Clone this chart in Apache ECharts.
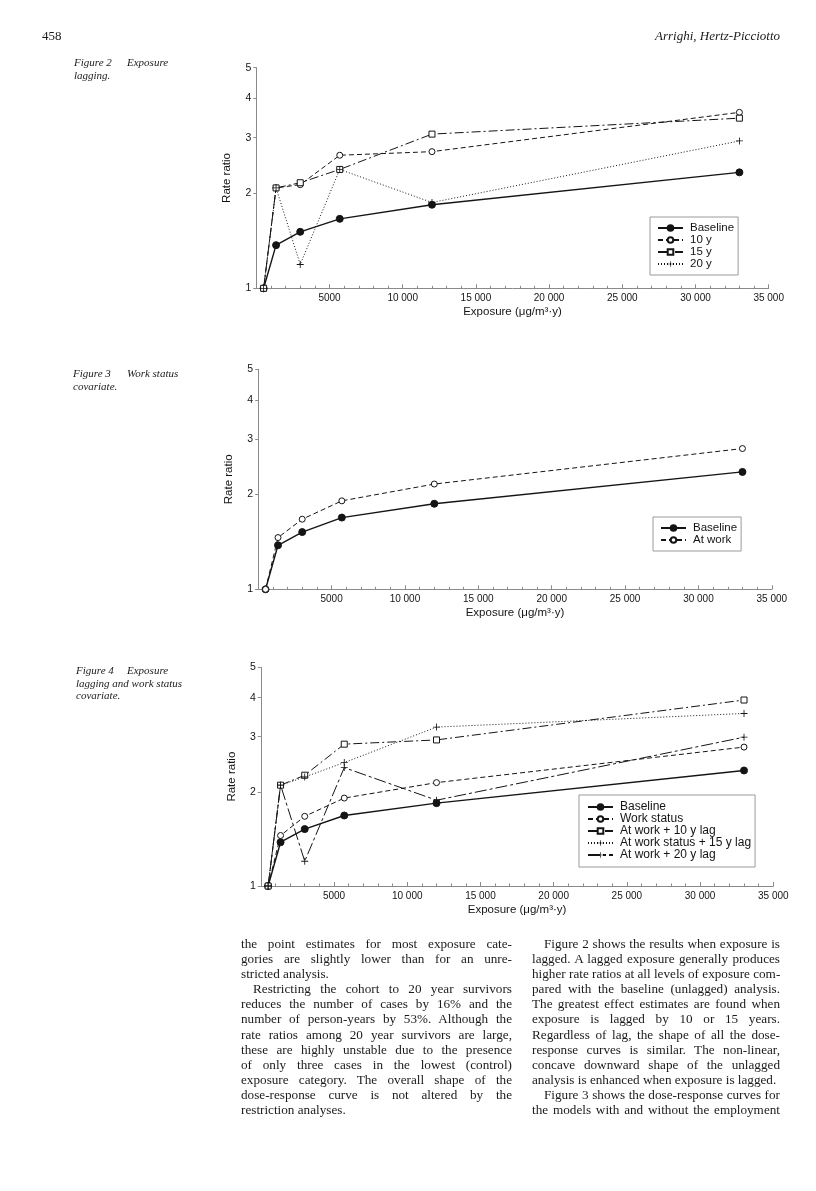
<!DOCTYPE html>
<html>
<head>
<meta charset="utf-8">
<script src="https://cdn.jsdelivr.net/npm/echarts@6/dist/echarts.min.js"></script>
<style>
  html, body { margin: 0; padding: 0; background: #fff; }
  #page { position: relative; width: 816px; height: 1191px; overflow: hidden; background: #fff; }
  #chart { position: absolute; left: 0; top: 0; width: 816px; height: 1191px; }
  .serif { position: absolute; font-family: "Liberation Serif", "DejaVu Serif", serif; color: #1a1a1a; white-space: nowrap; }
  .cap { font-style: italic; font-size: 11px; line-height: 12px; }
  .col { position: absolute; font-family: "Liberation Serif", "DejaVu Serif", serif; color: #1a1a1a; font-size: 13.2px; line-height: 15.1px; }
  .col div { text-align: justify; text-align-last: justify; white-space: nowrap; height: 15.1px; }
  .col div.last { text-align-last: left; }
  .col div.ind { text-indent: 12px; }
</style>
</head>
<body>
<div id="page">
  <div id="chart"></div>

  <div class="serif" style="left:42px; top:28px; font-size:13px;">458</div>
  <div class="serif" style="right:36px; top:28px; font-size:13px; font-style:italic;">Arrighi, Hertz-Picciotto</div>

  <div class="serif cap" style="left:74px; top:56px;">Figure 2</div>
  <div class="serif cap" style="left:127px; top:56px;">Exposure</div>
  <div class="serif cap" style="left:74px; top:68.5px;">lagging.</div>

  <div class="serif cap" style="left:73px; top:367px;">Figure 3</div>
  <div class="serif cap" style="left:127px; top:367px;">Work status</div>
  <div class="serif cap" style="left:73px; top:379.5px;">covariate.</div>

  <div class="serif cap" style="left:76px; top:664px;">Figure 4</div>
  <div class="serif cap" style="left:127px; top:664px;">Exposure</div>
  <div class="serif cap" style="left:76px; top:676.5px;">lagging and work status</div>
  <div class="serif cap" style="left:76px; top:689px;">covariate.</div>

  <div class="col" style="left:241px; top:936px; width:271px;">
    <div>the point estimates for most exposure cate-</div>
    <div>gories are slightly lower than for an unre-</div>
    <div class="last">stricted analysis.</div>
    <div class="ind">Restricting the cohort to 20 year survivors</div>
    <div>reduces the number of cases by 16% and the</div>
    <div>number of person-years by 53%. Although the</div>
    <div>rate ratios among 20 year survivors are large,</div>
    <div>these are highly unstable due to the presence</div>
    <div>of only three cases in the lowest (control)</div>
    <div>exposure category. The overall shape of the</div>
    <div>dose-response curve is not altered by the</div>
    <div class="last">restriction analyses.</div>
  </div>

  <div class="col" style="left:532px; top:936px; width:248px;">
    <div class="ind">Figure 2 shows the results when exposure is</div>
    <div>lagged. A lagged exposure generally produces</div>
    <div>higher rate ratios at all levels of exposure com-</div>
    <div>pared with the baseline (unlagged) analysis.</div>
    <div>The greatest effect estimates are found when</div>
    <div>exposure is lagged by 10 or 15 years.</div>
    <div>Regardless of lag, the shape of all the dose-</div>
    <div>response curves is similar. The non-linear,</div>
    <div>concave downward shape of the unlagged</div>
    <div class="last">analysis is enhanced when exposure is lagged.</div>
    <div class="ind">Figure 3 shows the dose-response curves for</div>
    <div>the models with and without the employment</div>
  </div>
</div>

<script>
// ---------------- data ----------------
const exposure = [500, 1350, 3000, 5700, 12000, 33000];
const rateTicks = [1, 2, 3, 4, 5];
const exposureTicks = [5000, 10000, 15000, 20000, 25000, 30000, 35000];

// Figure 2: exposure lagging
const fig2Baseline = [1, 1.37, 1.51, 1.66, 1.84, 2.33];
const fig2Lag10    = [1, 2.08, 2.13, 2.64, 2.71, 3.61];
const fig2Lag15    = [1, 2.08, 2.16, 2.38, 3.08, 3.46];
const fig2Lag20    = [1, 2.08, 1.19, 2.38, 1.87, 2.93];

// Figure 3: work status covariate
const fig3Baseline = [1, 1.38, 1.52, 1.69, 1.87, 2.36];
const fig3AtWork   = [1, 1.46, 1.67, 1.91, 2.16, 2.80];

// Figure 4: exposure lagging and work status covariate
const fig4Baseline   = [1, 1.38, 1.52, 1.68, 1.84, 2.34];
const fig4WorkStatus = [1, 1.45, 1.67, 1.91, 2.14, 2.78];
const fig4Work10     = [1, 2.10, 2.26, 2.84, 2.93, 3.93];
const fig4Work15     = [1, 2.10, 2.23, 2.48, 3.22, 3.56];
const fig4Work20     = [1, 2.10, 1.20, 2.39, 1.88, 2.99];

// ---------------- styling ----------------
const SANS = '"Liberation Sans", Arial, Helvetica, sans-serif';
const INK = '#141414';
const AXIS = '#8a8a8a';
const PLUS = 'path://M4.4,0H5.6V4.4H10V5.6H5.6V10H4.4V5.6H0V4.4H4.4Z';

const styles = {
  baseline: { symbol: 'circle', symbolSize: 7, line: { type: 'solid', width: 1.4 }, fill: INK, border: 1 },
  dashCircle: { symbol: 'circle', symbolSize: 6, line: { type: [5, 3], width: 1 }, fill: '#fff', border: 1 },
  dashDotSquare: { symbol: 'rect', symbolSize: 6, line: { type: [9, 3, 2, 3], width: 1 }, fill: '#fff', border: 1 },
  dotPlus: { symbol: PLUS, symbolSize: 7, line: { type: [1, 2], width: 1 }, fill: INK, border: 0 },
  longDashPlus: { symbol: PLUS, symbolSize: 7, line: { type: [12, 3, 3, 3], width: 1 }, fill: INK, border: 0 }
};

function series(name, values, gi, st) {
  const s = styles[st];
  return {
    type: 'line', name: name, xAxisIndex: gi, yAxisIndex: gi,
    data: exposure.map((x, i) => [x, values[i]]),
    symbol: s.symbol, symbolSize: s.symbolSize, showAllSymbol: true,
    lineStyle: { color: INK, width: s.line.width, type: s.line.type },
    itemStyle: { color: s.fill, borderColor: INK, borderWidth: s.border },
    emphasis: { disabled: true },
    animation: false, clip: false
  };
}

const grids = [
  { left: 256.3, top: 67.7, width: 512.4, height: 220.6 },
  { left: 258.2, top: 369.3, width: 513.6, height: 220.0 },
  { left: 260.8, top: 667.3, width: 512.5, height: 218.7 }
].map(g => Object.assign({ outerBoundsMode: 'none', containLabel: false }, g));

function fmtExposure(v) {
  if (v === 0) return '';
  if (v >= 10000) {
    const s = String(v);
    return s.slice(0, s.length - 3) + ' ' + s.slice(-3);
  }
  return String(v);
}

const xAxes = grids.map((g, i) => ({
  type: 'value', gridIndex: i, min: 0, max: 35000, interval: 5000,
  axisLine: { show: true, onZero: false, lineStyle: { color: AXIS, width: 1 } },
  axisTick: { show: true, inside: true, length: 4, lineStyle: { color: AXIS } },
  minorTick: { show: true, splitNumber: 5, length: 2.5, lineStyle: { color: AXIS } },
  splitLine: { show: false },
  axisLabel: { formatter: fmtExposure, fontFamily: SANS, fontSize: 10, color: INK, margin: 5, showMinLabel: false, showMaxLabel: true },
  name: 'Exposure (μg/m³·y)', nameLocation: 'middle', nameGap: 18,
  nameTextStyle: { fontFamily: SANS, fontSize: 11.5, color: INK }
}));

const yAxes = grids.map((g, i) => ({
  type: 'log', logBase: 10, gridIndex: i, min: 1, max: 5,
  axisLine: { show: true, onZero: false, lineStyle: { color: AXIS, width: 1 } },
  axisTick: { show: true, inside: false, length: 3, customValues: rateTicks, lineStyle: { color: AXIS } },
  splitLine: { show: false },
  axisLabel: { customValues: rateTicks, fontFamily: SANS, fontSize: 10.5, color: INK, margin: 5 },
  name: 'Rate ratio', nameLocation: 'middle', nameGap: 23, nameRotate: 90,
  nameTextStyle: { fontFamily: SANS, fontSize: 11.5, color: INK }
}));

function legend(names, left, top, lineH, pad, fs) {
  return {
    data: names, orient: 'vertical', left: left, top: top,
    itemWidth: 25, itemHeight: 7, itemGap: 0, padding: pad,
    borderColor: '#9a9a9a', borderWidth: 1, borderRadius: 0, backgroundColor: '#fff',
    selectedMode: false,
    textStyle: { fontFamily: SANS, fontSize: fs, color: INK, lineHeight: lineH, padding: [0, 0, 0, 2] }
  };
}

const option = {
  animation: false,
  grid: grids,
  xAxis: xAxes,
  yAxis: yAxes,
  legend: [
    legend(['Baseline', '10 y', '15 y', '20 y'], 650, 217, 11, [5, 4, 5, 7], 11.5),
    legend(['Baseline', 'At work'], 653, 517, 12, [5, 4, 5, 7], 11.5),
    legend(['Baseline', 'Work status', 'At work + 10 y lag', 'At work status + 15 y lag', 'At work + 20 y lag'], 579, 795, 11.8, [6, 4, 6, 8], 12)
  ],
  series: [
    series('Baseline', fig2Baseline, 0, 'baseline'),
    series('10 y', fig2Lag10, 0, 'dashCircle'),
    series('15 y', fig2Lag15, 0, 'dashDotSquare'),
    series('20 y', fig2Lag20, 0, 'dotPlus'),

    series('Baseline', fig3Baseline, 1, 'baseline'),
    series('At work', fig3AtWork, 1, 'dashCircle'),

    series('Baseline', fig4Baseline, 2, 'baseline'),
    series('Work status', fig4WorkStatus, 2, 'dashCircle'),
    series('At work + 10 y lag', fig4Work10, 2, 'dashDotSquare'),
    series('At work status + 15 y lag', fig4Work15, 2, 'dotPlus'),
    series('At work + 20 y lag', fig4Work20, 2, 'longDashPlus')
  ]
};

const chart = echarts.init(document.getElementById('chart'), null, { renderer: 'canvas' });
chart.setOption(option);
</script>
</body>
</html>
